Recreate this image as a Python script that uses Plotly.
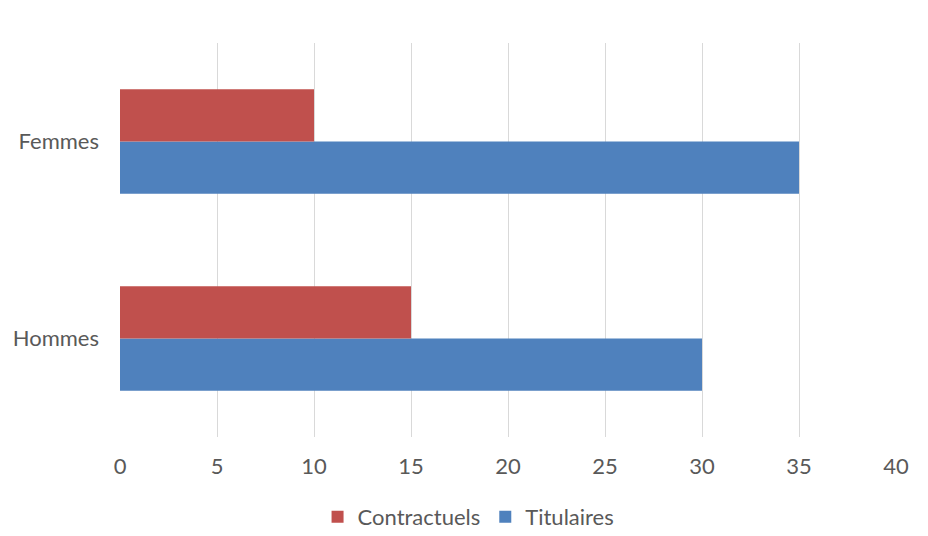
import plotly.graph_objects as go

categories = ["Hommes", "Femmes"]
titulaires = [30, 35]
contractuels = [15, 10]
x_ticks = [0, 5, 10, 15, 20, 25, 30, 35, 40]

fig = go.Figure()
fig.add_trace(go.Bar(
    y=categories, x=titulaires, orientation="h", name="Titulaires",
    marker=dict(color="#4F81BD", line=dict(width=0)), legendrank=2,
))
fig.add_trace(go.Bar(
    y=categories, x=contractuels, orientation="h", name="Contractuels",
    marker=dict(color="#C0504D", line=dict(width=0)), legendrank=1,
))

fig.update_layout(
    width=912, height=524,
    margin=dict(l=112, r=24, t=35, b=95, autoexpand=False),
    barmode="group", bargap=0.47, bargroupgap=0,
    plot_bgcolor="white", paper_bgcolor="white",
    font=dict(family="Lato, Open Sans, sans-serif", size=22, color="#595959"),
    xaxis=dict(
        range=[0, 40], tickvals=x_ticks, showgrid=True, gridcolor="#D9D9D9",
        gridwidth=1, zeroline=False, showline=False, ticks="",
        ticklabelstandoff=14, automargin=False,
    ),
    yaxis=dict(
        categoryorder="array", categoryarray=categories, showgrid=False,
        showline=False, ticks="", ticklabelstandoff=20, automargin=False,
    ),
    legend=dict(
        orientation="h", xref="container", x=0.505, xanchor="center",
        yref="paper", y=-0.203, yanchor="middle",
        font=dict(size=22, color="#595959"), itemwidth=30,
    ),
)

fig.write_html("out.html")
